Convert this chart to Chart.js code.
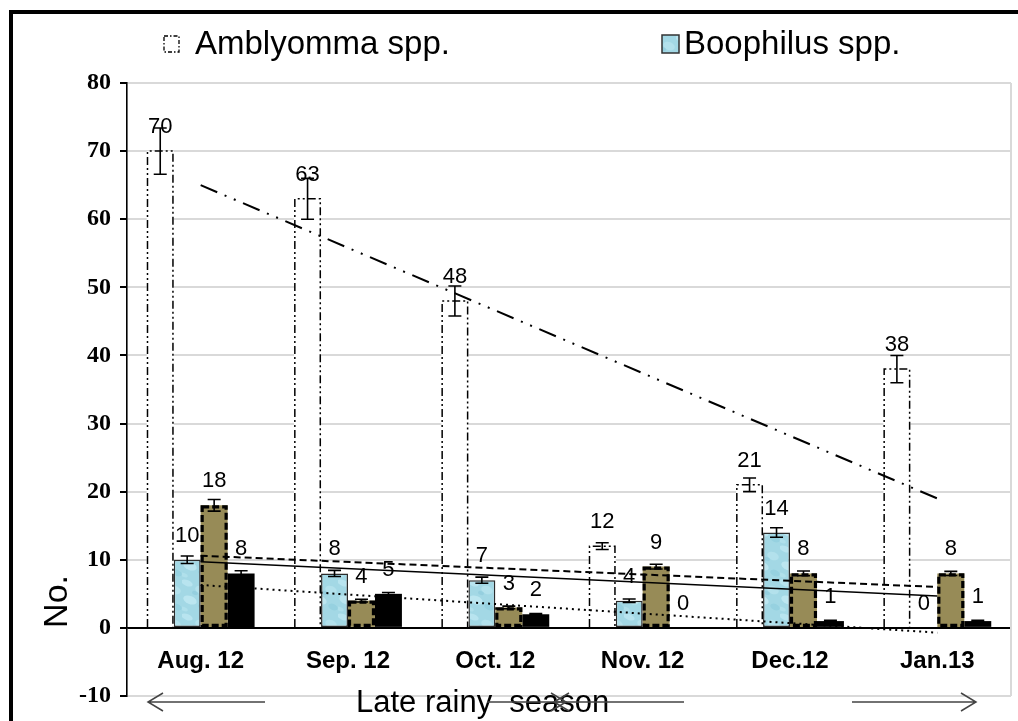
<!DOCTYPE html>
<html><head><meta charset="utf-8">
<script src="https://cdn.jsdelivr.net/npm/chart.js@4.4.1/dist/chart.umd.min.js"></script>
<style>html,body{margin:0;padding:0;background:#fff;}#wrap{width:1018px;height:721px;position:relative;}canvas{display:block;}</style>
</head><body><div id="wrap"><canvas id="c" width="1018" height="721"></canvas></div>
<script>
// ---- data ----
const categories = ['Aug. 12', 'Sep. 12', 'Oct. 12', 'Nov. 12', 'Dec.12', 'Jan.13'];
const seriesNames = ['Amblyomma spp.', 'Boophilus spp.', 'Series 3', 'Series 4'];
const amblyomma = [70, 63, 48, 12, 21, 38];
const boophilus = [10, 8, 7, 4, 14, 0];
const series3 = [18, 4, 3, 9, 8, 8];
const series4 = [8, 5, 2, 0, 1, 1];
const amblyommaErr = [3.4, 3, 2.2, 0.5, 1, 2];
const boophilusErr = [0.55, 0.45, 0.45, 0.25, 0.7, 0];
const series3Err = [0.85, 0.2, 0.2, 0.35, 0.35, 0.3];
const series4Err = [0.4, 0.2, 0.1, 0, 0.1, 0.1];
// trend line end values (first and last category)
const amblyommaTrend = [65, null, null, null, null, 19];
const boophilusTrend = [9.7, null, null, null, null, 4.7];
const series3Trend = [10.6, null, null, null, null, 6.0];
const series4Trend = [6.3, null, null, null, null, -0.7];
const yTicks = {min: -10, max: 80, step: 10};
const seasonLabel = 'Late rainy  season';
const yTitle = 'No.';

const SANS = '"Liberation Sans", Arial, sans-serif';
const SERIF = '"Liberation Serif", "Times New Roman", serif';

const canvas = document.getElementById('c');
const ctx0 = canvas.getContext('2d');

function waterPattern(ctx) {
  const c = document.createElement('canvas');
  c.width = 26; c.height = 34;
  const g = c.getContext('2d');
  g.fillStyle = '#a3d8e5'; g.fillRect(0, 0, 26, 34);
  const blobs = [[5, 5, 6, 3, '#b8e4ef'], [19, 12, 6, 4, '#b3e1ec'], [8, 22, 7, 4, '#bce6f0'], [21, 29, 5, 3, '#96d1e0'], [13, 15, 3, 2, '#95cfdf'], [2, 31, 4, 2, '#b0e0eb']];
  blobs.forEach(b => { g.fillStyle = b[4]; g.beginPath(); g.ellipse(b[0], b[1], b[2], b[3], 0.4, 0, Math.PI * 2); g.fill(); });
  return ctx.createPattern(c, 'repeat');
}
const bluePat = waterPattern(ctx0);
const OLIVE = '#978b57';

const errs = [amblyommaErr, boophilusErr, series3Err, series4Err];
const outline = {
  0: {w: 1.5, dash: [8, 3, 2, 3, 2, 3], open: true},
  2: {w: 3.2, dash: [7, 3], open: false}
};

const decor = {
  id: 'decor',
  beforeDraw(chart) {
    const c = chart.ctx; c.save(); c.fillStyle = '#fff'; c.fillRect(0, 0, chart.width, chart.height); c.restore();
  },
  beforeDatasetsDraw(chart) {
    const {ctx, chartArea: a} = chart;
    ctx.save(); ctx.strokeStyle = '#d9d9d9'; ctx.lineWidth = 2;
    ctx.beginPath(); ctx.moveTo(a.right, a.top); ctx.lineTo(a.right, a.bottom); ctx.stroke();
    ctx.restore();
  },
  afterDatasetDraw(chart, args) {
    const st = outline[args.index];
    if (!st) return;
    const ctx = chart.ctx;
    ctx.save(); ctx.strokeStyle = '#000'; ctx.lineWidth = st.w; ctx.setLineDash(st.dash);
    args.meta.data.forEach(el => {
      const p = el.getProps(['x', 'y', 'base', 'width'], true);
      const l = p.x - p.width / 2, r = p.x + p.width / 2;
      ctx.beginPath();
      if (st.open) {
        ctx.moveTo(l + 0.75, p.base); ctx.lineTo(l + 0.75, p.y); ctx.lineTo(r - 0.75, p.y); ctx.lineTo(r - 0.75, p.base);
      } else {
        ctx.rect(l + 1.5, p.y + 1.5, p.width - 3, p.base - p.y - 3);
      }
      ctx.stroke();
    });
    ctx.restore();
  },
  afterDatasetsDraw(chart) {
    const ctx = chart.ctx, ys = chart.scales.y;
    // value labels
    ctx.save();
    ctx.font = '22px ' + SANS; ctx.fillStyle = '#000'; ctx.textAlign = 'center'; ctx.textBaseline = 'middle';
    chart.data.datasets.forEach((ds, di) => {
      if (ds.type === 'line') return;
      const meta = chart.getDatasetMeta(di);
      meta.data.forEach((el, i) => {
        ctx.fillText(String(ds.data[i]), el.x, el.y - 24);
      });
    });
    // error bars
    ctx.strokeStyle = '#000'; ctx.lineWidth = 1.6; ctx.setLineDash([]);
    chart.data.datasets.forEach((ds, di) => {
      if (ds.type === 'line') return;
      const e = errs[di];
      const meta = chart.getDatasetMeta(di);
      meta.data.forEach((el, i) => {
        if (!e[i]) return;
        const v = ds.data[i];
        const yt = ys.getPixelForValue(v + e[i]), yb = ys.getPixelForValue(v - e[i]);
        ctx.beginPath();
        ctx.moveTo(el.x, yt); ctx.lineTo(el.x, yb);
        ctx.moveTo(el.x - 6.5, yt); ctx.lineTo(el.x + 6.5, yt);
        ctx.moveTo(el.x - 6.5, yb); ctx.lineTo(el.x + 6.5, yb);
        ctx.stroke();
      });
    });
    ctx.restore();
  },
  afterDraw(chart) {
    const ctx = chart.ctx, a = chart.chartArea;
    ctx.save();
    // outer frame (left and top)
    ctx.fillStyle = '#000';
    ctx.fillRect(9, 10, 4, chart.height - 10);
    ctx.fillRect(9, 10, chart.width - 9, 4);
    // legend
    const ly = 44;
    ctx.fillStyle = '#fff'; ctx.fillRect(164, ly - 8, 15, 16);
    ctx.strokeStyle = '#000'; ctx.lineWidth = 1.3; ctx.setLineDash([4, 2, 1.5, 2]);
    ctx.strokeRect(164, ly - 8, 15, 16);
    ctx.setLineDash([]);
    ctx.fillStyle = bluePat; ctx.fillRect(662, ly - 9, 17, 18);
    ctx.strokeStyle = '#333'; ctx.lineWidth = 1.5; ctx.strokeRect(662, ly - 9, 17, 18);
    ctx.fillStyle = '#000'; ctx.font = '33px ' + SANS; ctx.textAlign = 'left'; ctx.textBaseline = 'middle';
    ctx.fillText(seriesNames[0], 195, ly + 1);
    ctx.fillText(seriesNames[1], 684, ly + 1);
    // y title
    ctx.save();
    ctx.translate(58, chart.scales.y.getPixelForValue(0));
    ctx.rotate(-Math.PI / 2);
    ctx.font = '34px ' + SANS; ctx.textAlign = 'left'; ctx.textBaseline = 'middle';
    ctx.fillText(yTitle, 0, 0);
    ctx.restore();
    // season annotation
    const yb = a.bottom + 6;
    ctx.font = '31px ' + SANS; ctx.textAlign = 'left'; ctx.textBaseline = 'alphabetic'; ctx.fillStyle = '#000';
    ctx.fillText(seasonLabel, 356, a.bottom + 16);
    ctx.strokeStyle = '#444'; ctx.lineWidth = 1.5;
    const arrow = (x1, x2) => {
      const d = x2 > x1 ? 1 : -1;
      ctx.beginPath(); ctx.moveTo(x1, yb); ctx.lineTo(x2, yb);
      ctx.moveTo(x2 - d * 15, yb - 9); ctx.lineTo(x2, yb); ctx.lineTo(x2 - d * 15, yb + 9);
      ctx.stroke();
    };
    arrow(265, 148); arrow(487, 566); arrow(684, 554); arrow(852, 976);
    ctx.restore();
  }
};

const trendStyle = (data, dash, w) => ({
  type: 'line', data, borderColor: '#000', borderWidth: w, borderDash: dash,
  pointRadius: 0, spanGaps: true, fill: false, order: 0, tension: 0, label: ''
});

new Chart(canvas, {
  type: 'bar',
  data: {
    labels: categories,
    datasets: [
      {label: seriesNames[0], data: amblyomma, backgroundColor: '#fff', borderWidth: 0, order: 1},
      {label: seriesNames[1], data: boophilus, backgroundColor: bluePat, borderColor: '#2b2b2b', borderWidth: 1.5, borderSkipped: false, order: 1},
      {label: seriesNames[2], data: series3, backgroundColor: OLIVE, borderWidth: 0, order: 1},
      {label: seriesNames[3], data: series4, backgroundColor: '#000', borderColor: '#000', borderWidth: 0, order: 1},
      trendStyle(amblyommaTrend, [18, 8, 2, 8, 2, 8], 2),
      trendStyle(boophilusTrend, [], 1.5),
      trendStyle(series3Trend, [7, 4], 2),
      trendStyle(series4Trend, [2, 4], 2)
    ]
  },
  options: {
    responsive: false,
    animation: false,
    devicePixelRatio: 1,
    layout: {padding: {left: 15, right: 7, top: 83, bottom: 25}},
    datasets: {bar: {barPercentage: 1, categoryPercentage: 0.732}},
    plugins: {legend: {display: false}, tooltip: {enabled: false}},
    scales: {
      x: {
        position: {y: 0},
        grid: {display: false, drawTicks: false},
        border: {display: true, color: '#000', width: 1.6},
        ticks: {color: '#000', padding: 19, maxRotation: 0, autoSkip: false, font: {family: SANS, size: 24, weight: 'bold'}},
        afterFit: s => { s.height = 0; }
      },
      y: {
        min: yTicks.min, max: yTicks.max,
        ticks: {stepSize: yTicks.step, color: '#000', padding: 9, font: {family: SERIF, size: 24, weight: 'bold'}},
        grid: {
          color: c => (c.tick && c.tick.value === 0) ? '#000' : '#d9d9d9',
          lineWidth: 2, tickColor: '#000', tickLength: 7
        },
        border: {color: '#000', width: 1.6},
        afterFit: s => { s.width = 112; }
      }
    }
  },
  plugins: [decor]
});
</script></body></html>
